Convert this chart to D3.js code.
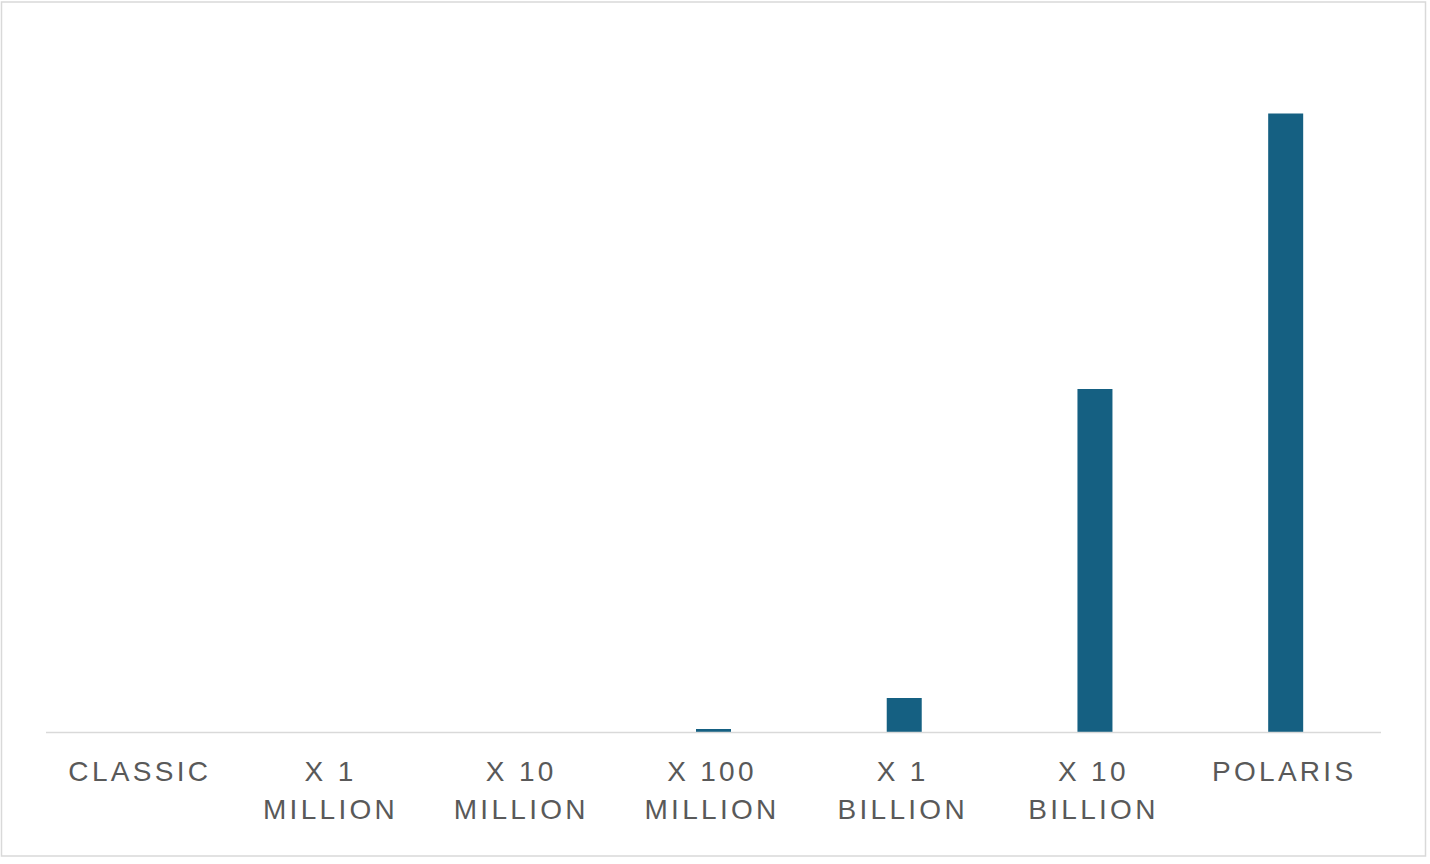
<!DOCTYPE html>
<html>
<head>
<meta charset="utf-8">
<script src="https://cdn.jsdelivr.net/npm/d3@7"></script>
<style>
  html, body { margin: 0; padding: 0; background: #ffffff; }
  svg { display: block; }
</style>
</head>
<body>
<svg id="chart" width="1430" height="864"></svg>
<script>
const categories = ["CLASSIC", "X 1 MILLION", "X 10 MILLION", "X 100 MILLION", "X 1 BILLION", "X 10 BILLION", "POLARIS"];
const labelLines = [["CLASSIC"], ["X 1", "MILLION"], ["X 10", "MILLION"], ["X 100", "MILLION"], ["X 1", "BILLION"], ["X 10", "BILLION"], ["POLARIS"]];
const values = [0, 0.035, 0.35, 3.5, 34.5, 343.5, 619];

const svg = d3.select("#chart");

// outer border
svg.append("rect")
  .attr("x", 1.5).attr("y", 2).attr("width", 1424).attr("height", 854)
  .attr("fill", "#ffffff").attr("stroke", "#d9d9d9").attr("stroke-width", 1.5);

const x = d3.scaleBand().domain(categories).range([46, 1381]).paddingInner(0.8165).paddingOuter(0.408);
const y = d3.scaleLinear().domain([0, 700]).range([732.5, 32.5]);

svg.append("g").selectAll("rect")
  .data(categories.map((c, i) => ({c, v: values[i]})))
  .join("rect")
  .attr("x", d => x(d.c))
  .attr("width", x.bandwidth())
  .attr("y", d => y(d.v))
  .attr("height", d => y(0) - y(d.v))
  .attr("fill", "#156082");

const axis = d3.axisBottom(x).tickSize(0).tickFormat("");
const gx = svg.append("g").attr("transform", `translate(0,${y(0)})`).call(axis);
gx.select(".domain").attr("stroke", "#d9d9d9").attr("stroke-width", 1.5).attr("d", "M46,0H1381");

gx.selectAll(".tick").each(function(d, i) {
  const t = d3.select(this).append("text")
    .attr("text-anchor", "middle")
    .attr("fill", "#595959")
    .style("font-family", "'Liberation Sans', Arial, sans-serif")
    .style("font-size", "28px")
    .style("letter-spacing", "3.3px");
  labelLines[i].forEach((line, j) => {
    t.append("tspan").attr("x", -1.5).attr("y", 48.5 + j * 38).text(line);
  });
});
</script>
</body>
</html>
